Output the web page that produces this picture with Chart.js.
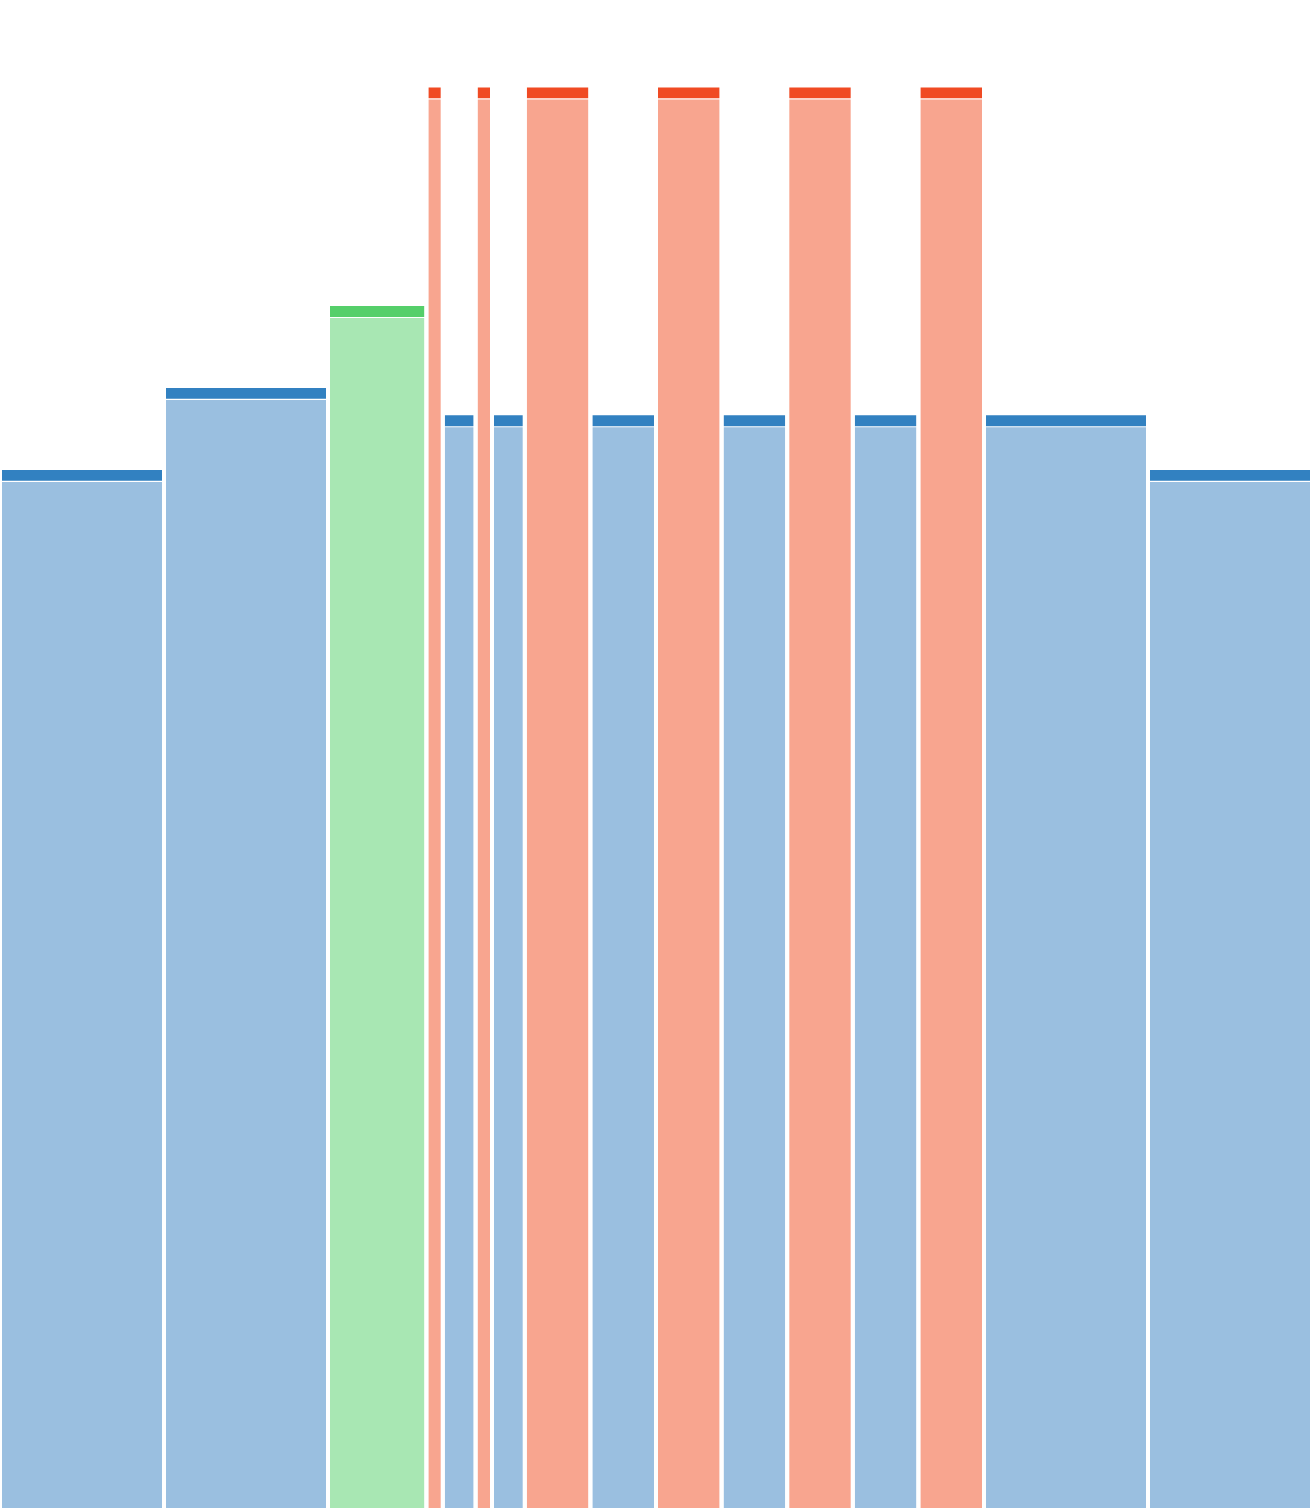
<!DOCTYPE html>
<html>
<head>
<meta charset="utf-8">
<script src="https://cdn.jsdelivr.net/npm/chart.js@4/dist/chart.umd.min.js"></script>
<style>
  html, body { margin: 0; padding: 0; background: #fff; overflow: hidden; }
  #wrap { width: 1312px; height: 1508px; position: relative; }
</style>
</head>
<body>
<div id="wrap"><canvas id="chart"></canvas></div>
<script>
// column widths (in share units) and heights, left to right
const widths  = [10, 10, 6, 1, 2, 1, 2, 4, 4, 4, 4, 4, 4, 4, 10, 10];
const heights = [38, 41, 44, 52, 40, 52, 40, 52, 40, 52, 40, 52, 40, 52, 40, 38];
const groups  = ['blue', 'blue', 'green', 'red', 'blue', 'red', 'blue', 'red',
                 'blue', 'red', 'blue', 'red', 'blue', 'red', 'blue', 'blue'];

const palette = {
    blue:  { body: '#9abfe0', cap: '#3281c1' },
    green: { body: '#a8e7b3', cap: '#55cf6a' },
    red:   { body: '#f8a58f', cap: '#f04a23' }
};

const yMax = 55.2;
const capSize = 0.40;   // dark band on top of each column
const capGap = 0.04;    // thin white line under the band
const inset = 0.12;     // half of the white gap between columns

const totalWidth = widths.reduce((a, b) => a + b, 0);

const datasets = [];
let start = 0;
widths.forEach((w, i) => {
    const x0 = start + inset;
    const x1 = start + w - inset;
    const h = heights[i];
    const colors = palette[groups[i]];

    // column body
    datasets.push({
        data: [{ x: x0, y: h - capSize - capGap }, { x: x1, y: h - capSize - capGap }],
        fill: 'origin',
        backgroundColor: colors.body,
        borderWidth: 0,
        borderColor: 'transparent',
        pointRadius: 0
    });
    // top band
    datasets.push({
        data: [{ x: x0, y: h }, { x: x1, y: h }],
        fill: { value: h - capSize },
        backgroundColor: colors.cap,
        borderWidth: 0,
        borderColor: 'transparent',
        pointRadius: 0
    });
    start += w;
});

new Chart(document.getElementById('chart'), {
    type: 'line',
    data: { datasets },
    options: {
        responsive: true,
        maintainAspectRatio: false,
        animation: false,
        layout: { padding: 0 },
        elements: { line: { tension: 0 } },
        plugins: {
            legend: { display: false },
            tooltip: { enabled: false }
        },
        scales: {
            x: { type: 'linear', min: 0, max: totalWidth, display: false },
            y: { min: 0, max: yMax, display: false }
        }
    }
});
</script>
</body>
</html>
